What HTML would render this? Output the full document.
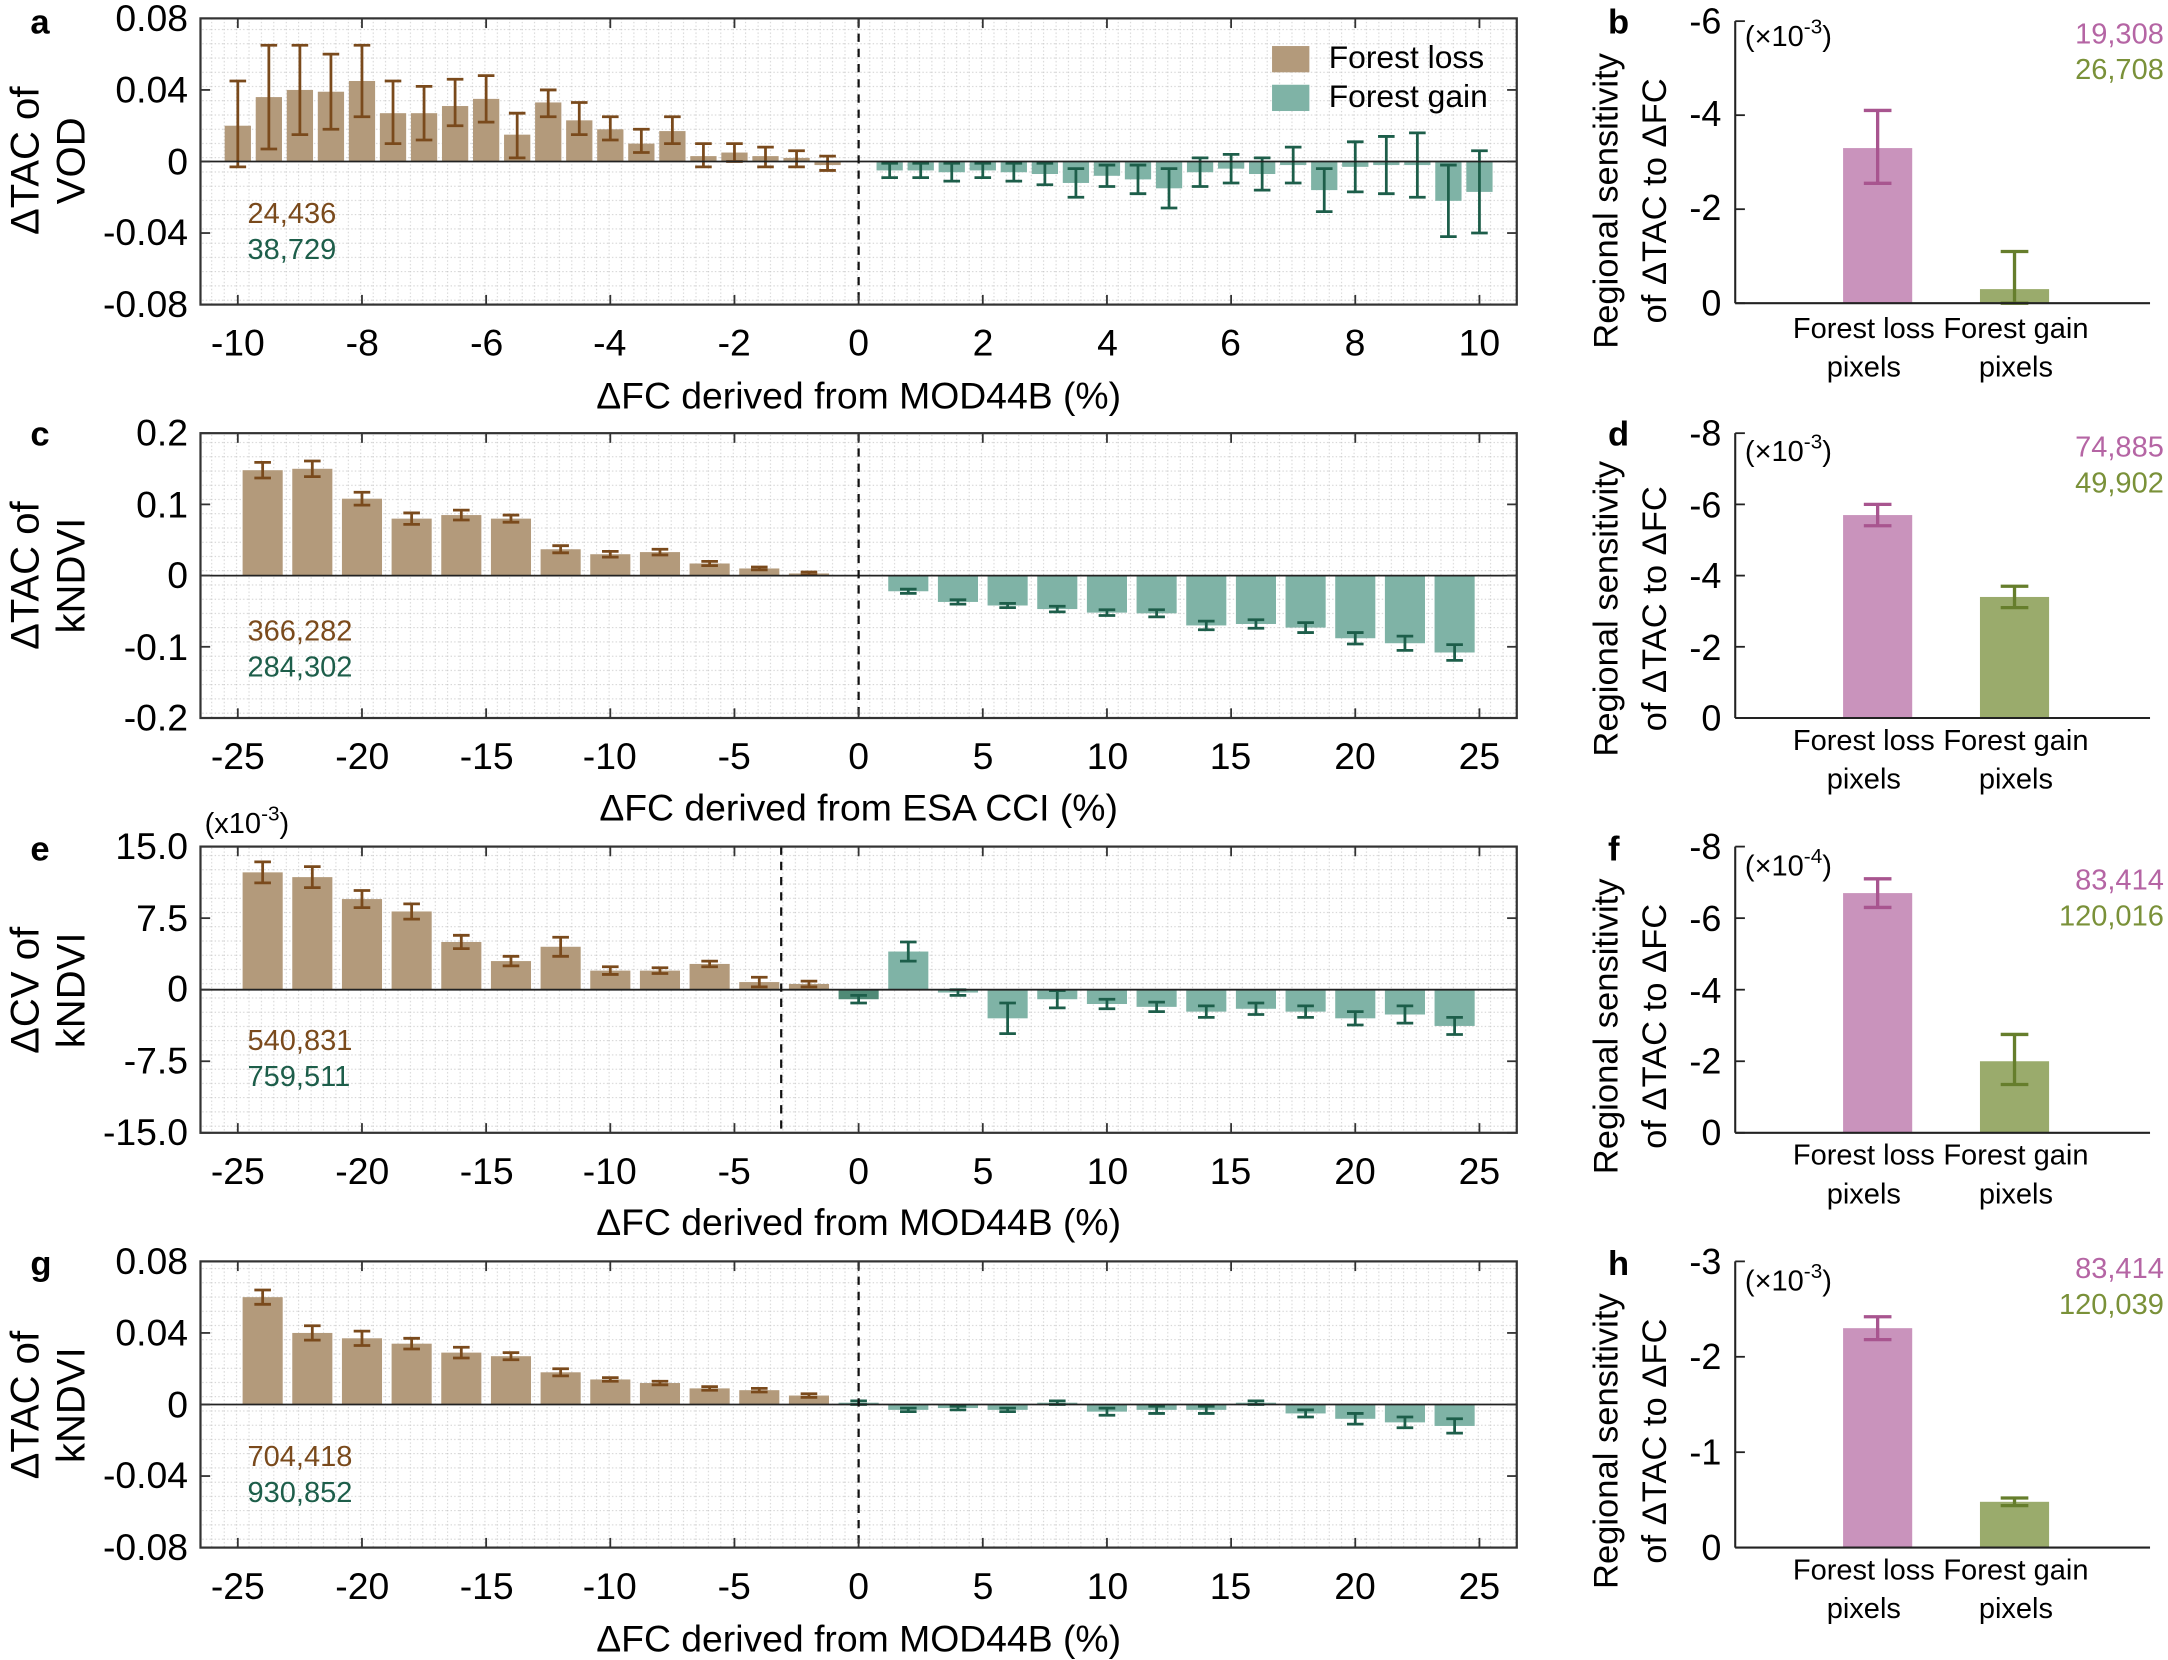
<!DOCTYPE html>
<html><head><meta charset="utf-8"><style>
html,body{margin:0;padding:0;background:#fff;}
svg{display:block;font-family:"Liberation Sans",Arial,sans-serif;}
</style></head><body>
<svg id="s" width="2168" height="1660" viewBox="0 0 1568 1200" xmlns="http://www.w3.org/2000/svg">
<defs>
<pattern id="grid" width="8.98" height="10.3" patternUnits="userSpaceOnUse">
<path d="M0 0.5 H8.98 M0.5 0 V10.3" stroke="#c8c8c8" stroke-width="0.6" stroke-dasharray="1 1.6" fill="none"/>
</pattern>
</defs>
<g id="bars"></g>
<g font-size="27" fill="#000">
<text x="22" y="24" font-weight="bold" font-size="25">a</text>
<text x="22" y="322" font-weight="bold" font-size="25">c</text>
<text x="22" y="622" font-weight="bold" font-size="25">e</text>
<text x="22" y="922" font-weight="bold" font-size="25">g</text>
<text x="1163" y="24" font-weight="bold" font-size="25">b</text>
<text x="1163" y="322" font-weight="bold" font-size="25">d</text>
<text x="1163" y="622" font-weight="bold" font-size="25">f</text>
<text x="1163" y="922" font-weight="bold" font-size="25">h</text>

<g text-anchor="end">
<text x="136" y="22">0.08</text><text x="136" y="74">0.04</text><text x="136" y="126">0</text><text x="136" y="177">-0.04</text><text x="136" y="229">-0.08</text>
<text x="136" y="322">0.2</text><text x="136" y="374">0.1</text><text x="136" y="425">0</text><text x="136" y="477">-0.1</text><text x="136" y="528">-0.2</text>
<text x="136" y="621">15.0</text><text x="136" y="673">7.5</text><text x="136" y="724">0</text><text x="136" y="776">-7.5</text><text x="136" y="828">-15.0</text>
<text x="136" y="921">0.08</text><text x="136" y="973">0.04</text><text x="136" y="1025">0</text><text x="136" y="1076">-0.04</text><text x="136" y="1128">-0.08</text>
</g>
<text x="148" y="602" font-size="21">(x10<tspan dy="-9" font-size="15">-3</tspan><tspan dy="9">)</tspan></text>

<g text-anchor="middle">
<text x="172" y="257">-10</text><text x="262" y="257">-8</text><text x="352" y="257">-6</text><text x="441" y="257">-4</text><text x="531" y="257">-2</text><text x="621" y="257">0</text><text x="711" y="257">2</text><text x="801" y="257">4</text><text x="890" y="257">6</text><text x="980" y="257">8</text><text x="1070" y="257">10</text>
<text x="172" y="556">-25</text><text x="262" y="556">-20</text><text x="352" y="556">-15</text><text x="441" y="556">-10</text><text x="531" y="556">-5</text><text x="621" y="556">0</text><text x="711" y="556">5</text><text x="801" y="556">10</text><text x="890" y="556">15</text><text x="980" y="556">20</text><text x="1070" y="556">25</text>
<text x="172" y="856">-25</text><text x="262" y="856">-20</text><text x="352" y="856">-15</text><text x="441" y="856">-10</text><text x="531" y="856">-5</text><text x="621" y="856">0</text><text x="711" y="856">5</text><text x="801" y="856">10</text><text x="890" y="856">15</text><text x="980" y="856">20</text><text x="1070" y="856">25</text>
<text x="172" y="1156">-25</text><text x="262" y="1156">-20</text><text x="352" y="1156">-15</text><text x="441" y="1156">-10</text><text x="531" y="1156">-5</text><text x="621" y="1156">0</text><text x="711" y="1156">5</text><text x="801" y="1156">10</text><text x="890" y="1156">15</text><text x="980" y="1156">20</text><text x="1070" y="1156">25</text>
<text x="621" y="295">ΔFC derived from MOD44B (%)</text>
<text x="621" y="593">ΔFC derived from ESA CCI (%)</text>
<text x="621" y="893">ΔFC derived from MOD44B (%)</text>
<text x="621" y="1194">ΔFC derived from MOD44B (%)</text>
</g>

<g text-anchor="middle" font-size="29">
<text transform="translate(28,116) rotate(-90)">ΔTAC of</text><text transform="translate(61,116) rotate(-90)">VOD</text>
<text transform="translate(28,416) rotate(-90)">ΔTAC of</text><text transform="translate(61,416) rotate(-90)">kNDVI</text>
<text transform="translate(28,716) rotate(-90)">ΔCV of</text><text transform="translate(61,716) rotate(-90)">kNDVI</text>
<text transform="translate(28,1016) rotate(-90)">ΔTAC of</text><text transform="translate(61,1016) rotate(-90)">kNDVI</text>
</g>
<g text-anchor="middle" font-size="25">
<text transform="translate(1170,145) rotate(-90)">Regional sensitivity</text><text transform="translate(1205,145) rotate(-90)">of ΔTAC to ΔFC</text>
<text transform="translate(1170,440) rotate(-90)">Regional sensitivity</text><text transform="translate(1205,440) rotate(-90)">of ΔTAC to ΔFC</text>
<text transform="translate(1170,742) rotate(-90)">Regional sensitivity</text><text transform="translate(1205,742) rotate(-90)">of ΔTAC to ΔFC</text>
<text transform="translate(1170,1042) rotate(-90)">Regional sensitivity</text><text transform="translate(1205,1042) rotate(-90)">of ΔTAC to ΔFC</text>
</g>

<g font-size="21">
<text x="179" y="161" fill="#7a4a1c">24,436</text><text x="179" y="187" fill="#1d5e4a">38,729</text>
<text x="179" y="463" fill="#7a4a1c">366,282</text><text x="179" y="489" fill="#1d5e4a">284,302</text>
<text x="179" y="759" fill="#7a4a1c">540,831</text><text x="179" y="785" fill="#1d5e4a">759,511</text>
<text x="179" y="1060" fill="#7a4a1c">704,418</text><text x="179" y="1086" fill="#1d5e4a">930,852</text>
</g>
<g font-size="21" text-anchor="end">
<text x="1565" y="31" fill="#b565a4">19,308</text><text x="1565" y="57" fill="#7a9139">26,708</text>
<text x="1565" y="330" fill="#b565a4">74,885</text><text x="1565" y="344" fill="#7a9139" dy="0"></text>
<text x="1565" y="345" fill="#7a9139"></text>
<text x="1565" y="356" fill="#7a9139">49,902</text>
<text x="1565" y="643" fill="#b565a4">83,414</text><text x="1565" y="669" fill="#7a9139">120,016</text>
<text x="1565" y="924" fill="#b565a4">83,414</text><text x="1565" y="950" fill="#7a9139">120,039</text>
</g>
<g font-size="21">
<text x="1262" y="33">(×10<tspan dy="-9" font-size="15">-3</tspan><tspan dy="9">)</tspan></text>
<text x="1262" y="333">(×10<tspan dy="-9" font-size="15">-3</tspan><tspan dy="9">)</tspan></text>
<text x="1262" y="633">(×10<tspan dy="-9" font-size="15">-4</tspan><tspan dy="9">)</tspan></text>
<text x="1262" y="933">(×10<tspan dy="-9" font-size="15">-3</tspan><tspan dy="9">)</tspan></text>
</g>
<g text-anchor="end" font-size="26">
<text x="1245" y="24">-6</text><text x="1245" y="91">-4</text><text x="1245" y="159">-2</text><text x="1245" y="228">0</text>
<text x="1245" y="322">-8</text><text x="1245" y="374">-6</text><text x="1245" y="425">-4</text><text x="1245" y="477">-2</text><text x="1245" y="528">0</text>
<text x="1245" y="621">-8</text><text x="1245" y="673">-6</text><text x="1245" y="725">-4</text><text x="1245" y="776">-2</text><text x="1245" y="828">0</text>
<text x="1245" y="921">-3</text><text x="1245" y="990">-2</text><text x="1245" y="1059">-1</text><text x="1245" y="1128">0</text>
</g>
<g text-anchor="middle" font-size="21">
<text x="1348" y="244">Forest loss</text><text x="1458" y="244">Forest gain</text><text x="1348" y="272">pixels</text><text x="1458" y="272">pixels</text>
<text x="1348" y="542">Forest loss</text><text x="1458" y="542">Forest gain</text><text x="1348" y="570">pixels</text><text x="1458" y="570">pixels</text>
<text x="1348" y="842">Forest loss</text><text x="1458" y="842">Forest gain</text><text x="1348" y="870">pixels</text><text x="1458" y="870">pixels</text>
<text x="1348" y="1142">Forest loss</text><text x="1458" y="1142">Forest gain</text><text x="1348" y="1170">pixels</text><text x="1458" y="1170">pixels</text>
</g>
<rect x="920" y="33" width="27" height="19" fill="#b39a7b"/>
<rect x="920" y="61" width="27" height="19" fill="#7fb3a6"/>
<text x="961" y="49" font-size="23">Forest loss</text>
<text x="961" y="77" font-size="23">Forest gain</text>
</g>
<script>
var NS="http://www.w3.org/2000/svg",G=document.getElementById("bars");
function el(t,a){var e=document.createElementNS(NS,t);for(var k in a)e.setAttribute(k,a[k]);G.appendChild(e);return e;}
var X0=145,X1=1097;
var LB="#b39a7b",LE="#7a4a1c",GB="#7fb3a6",GE="#1d5e4a",DG="#4f8a76";
function panel(top,bot,zeroY,ymax,xmin,xmax,dashX,loss,gain,bw){
 el("rect",{x:X0,y:top,width:X1-X0,height:bot-top,fill:"url(#grid)"});
 var sy=(zeroY-top)/ymax,sx=(1070-172)/(xmax-xmin);
 function px(v){return 172+(v-xmin)*sx;}
 function py(v){return zeroY-v*sy;}
 function draw(arr,fc,ec){arr.forEach(function(d){var x=px(d[0]),v=d[1],e=d[2],lo=d[3]!==undefined?d[3]:v-e,hi=d[4]!==undefined?d[4]:v+e;
  var y1=Math.min(py(v),zeroY),h=Math.abs(py(v)-zeroY);
  el("rect",{x:x-bw/2,y:y1,width:bw,height:h,fill:d[5]||fc});
  el("line",{x1:x,x2:x,y1:py(lo),y2:py(hi),stroke:ec,"stroke-width":2});
  el("line",{x1:x-6,x2:x+6,y1:py(lo),y2:py(lo),stroke:ec,"stroke-width":2});
  el("line",{x1:x-6,x2:x+6,y1:py(hi),y2:py(hi),stroke:ec,"stroke-width":2});});}
 draw(loss,LB,LE);draw(gain,GB,GE);
 el("line",{x1:X0,x2:X1,y1:zeroY,y2:zeroY,stroke:"#222","stroke-width":1.3});
 el("line",{x1:dashX,x2:dashX,y1:top,y2:bot,stroke:"#111","stroke-width":1.6,"stroke-dasharray":"6 5"});
 el("rect",{x:X0,y:top,width:X1-X0,height:bot-top,fill:"none",stroke:"#333","stroke-width":1.6});
 var step=(xmax-xmin)/10;
 for(var i=0;i<=10;i++){var x=px(xmin+i*step);
  el("line",{x1:x,x2:x,y1:top,y2:top+7,stroke:"#333","stroke-width":1.3});
  el("line",{x1:x,x2:x,y1:bot,y2:bot-7,stroke:"#333","stroke-width":1.3});}
 for(var j=0;j<5;j++){var y=top+j*(bot-top)/4;
  el("line",{x1:X0,x2:X0+7,y1:y,y2:y,stroke:"#333","stroke-width":1.3});
  el("line",{x1:X1,x2:X1-7,y1:y,y2:y,stroke:"#333","stroke-width":1.3});}
}
function mk(xs,vals,errs){return xs.map(function(x,i){return [x,vals[i],errs[i]];});}
var la=[],ga=[];
var av=[0.02,0.036,0.04,0.039,0.045,0.027,0.027,0.031,0.035,0.015,0.033,0.023,0.018,0.01,0.017,0.003,0.005,0.003,0.002,-0.002];
var alo=[-0.003,0.007,0.015,0.018,0.025,0.01,0.012,0.02,0.022,0.002,0.025,0.015,0.012,0.005,0.01,-0.003,0,-0.003,-0.003,-0.005];
var ahi=[0.045,0.065,0.065,0.06,0.065,0.045,0.042,0.046,0.048,0.027,0.04,0.033,0.025,0.018,0.025,0.01,0.01,0.008,0.006,0.003];
for(var i=0;i<20;i++)la.push([-10+i*0.5,av[i],0,alo[i],ahi[i]]);
var gv=[-0.005,-0.005,-0.006,-0.005,-0.006,-0.007,-0.012,-0.008,-0.01,-0.015,-0.006,-0.004,-0.007,-0.002,-0.016,-0.003,-0.002,-0.002,-0.022,-0.017];
var ge=[0.004,0.004,0.005,0.004,0.005,0.006,0.008,0.006,0.008,0.011,0.008,0.008,0.009,0.01,0.012,0.014,0.016,0.018,0.02,0.023];
for(var i=0;i<20;i++)ga.push([0.5+i*0.5,gv[i],ge[i]]);
panel(13,220,116.5,0.08,-10,10,621,la,ga,19);
var xs=[],xg=[];for(var i=0;i<12;i++){xs.push(-24+2*i);xg.push(2+2*i);}
panel(313,519,416,0.2,-25,25,621,
 mk(xs,[0.148,0.15,0.108,0.08,0.085,0.08,0.037,0.03,0.033,0.017,0.01,0.003],[0.011,0.011,0.009,0.008,0.007,0.005,0.005,0.004,0.004,0.003,0.002,0.002]),
 mk(xg,[-0.022,-0.037,-0.042,-0.047,-0.052,-0.053,-0.07,-0.068,-0.073,-0.088,-0.095,-0.108],[0.003,0.003,0.003,0.004,0.004,0.005,0.006,0.006,0.007,0.008,0.01,0.011]),29);
var eg=mk([2,4,6,8,10,12,14,16,18,20,22,24],[4,-0.3,-3,-1,-1.5,-1.8,-2.3,-2,-2.3,-3,-2.6,-3.8],[1,0.3,1.6,0.9,0.5,0.5,0.6,0.6,0.6,0.7,0.9,0.9]);
eg.unshift([0,-1.0,0.4,undefined,undefined,DG]);
panel(612,819,715.5,15,-25,25,565,
 mk(xs,[12.3,11.8,9.5,8.2,5.0,3.0,4.5,2.0,2.0,2.7,0.8,0.6],[1.1,1.1,0.9,0.8,0.7,0.5,1.0,0.4,0.3,0.3,0.5,0.3]),eg,29);
var gg=mk([2,4,6,8,10,12,14,16,18,20,22,24],[-0.003,-0.002,-0.003,0.001,-0.004,-0.003,-0.003,0.001,-0.005,-0.008,-0.01,-0.012],[0.001,0.001,0.001,0.001,0.002,0.002,0.002,0.001,0.002,0.003,0.003,0.004]);
gg.unshift([0,0.001,0.001]);
panel(912,1119,1015.5,0.08,-25,25,621,
 mk(xs,[0.06,0.04,0.037,0.034,0.029,0.027,0.018,0.014,0.012,0.009,0.008,0.005],[0.004,0.004,0.004,0.003,0.003,0.002,0.002,0.001,0.001,0.001,0.001,0.001]),gg,29);
var PB="#c993bc",PE="#a8558f",OB="#9aab6c",OE="#667e2c";
function rp(top,bot,vmax,ticks,p,g){
 var s=(bot-top)/vmax;function py(v){return bot-v*s;}
 function b(x,v,lo,hi,fc,ec){el("rect",{x:x-25,y:py(v),width:50,height:bot-py(v),fill:fc});
  el("line",{x1:x,x2:x,y1:py(lo),y2:py(hi),stroke:ec,"stroke-width":2.4});
  el("line",{x1:x-10,x2:x+10,y1:py(lo),y2:py(lo),stroke:ec,"stroke-width":2.4});
  el("line",{x1:x-10,x2:x+10,y1:py(hi),y2:py(hi),stroke:ec,"stroke-width":2.4});}
 b(1358,p[0],p[1],p[2],PB,PE);b(1457,g[0],g[1],g[2],OB,OE);
 el("line",{x1:1255,x2:1255,y1:top,y2:bot,stroke:"#222","stroke-width":1.5});
 el("line",{x1:1255,x2:1555,y1:bot,y2:bot,stroke:"#222","stroke-width":1.5});
 for(var i=0;i<=ticks;i++){var y=top+i*(bot-top)/ticks;el("line",{x1:1255,x2:1262,y1:y,y2:y,stroke:"#222","stroke-width":1.3});}
}
rp(15,219,6,3,[3.3,2.55,4.1],[0.3,0,1.1]);
rp(313,519,8,4,[5.7,5.4,6.0],[3.4,3.1,3.7]);
rp(612,819,8,4,[6.7,6.3,7.1],[2.0,1.35,2.75]);
rp(912,1119,3,3,[2.3,2.18,2.42],[0.48,0.44,0.52]);
</script>
</svg>
</body></html>
